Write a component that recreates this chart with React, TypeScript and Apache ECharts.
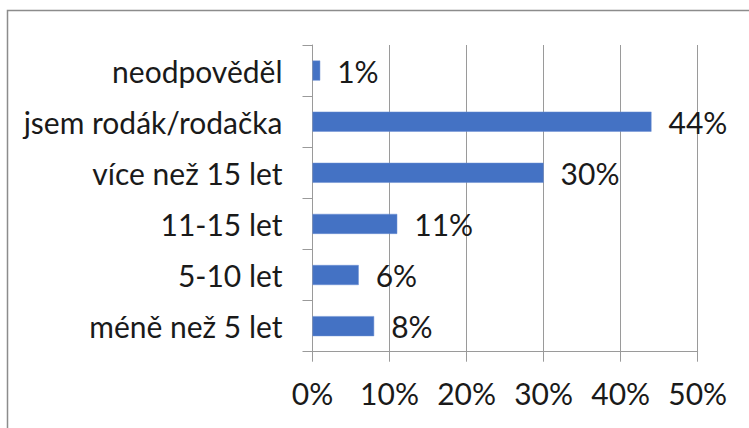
import React, { useEffect, useRef } from "react";
import * as echarts from "echarts";

const categories = ["méně než 5 let", "5-10 let", "11-15 let", "více než 15 let", "jsem rodák/rodačka", "neodpověděl"];
const values = [8, 6, 11, 30, 44, 1];
const xTicks = [0, 10, 20, 30, 40, 50];

const FONT = "Lato";

export default function App() {
  const ref = useRef<HTMLDivElement>(null);
  useEffect(() => {
    if (!ref.current) return;
    const chart = echarts.init(ref.current, null, { renderer: "svg" });
    chart.setOption({
      animation: false,
      backgroundColor: "#ffffff",
      graphic: [
        {
          type: "rect",
          shape: { x: 7.5, y: 10.5, width: 800, height: 500 },
          style: { fill: "none", stroke: "#8c8c8c", lineWidth: 1.5 },
          silent: true,
          z: 100,
        },
      ],
      grid: { left: 312.5, right: 51.3, top: 45, bottom: 76.3 },
      xAxis: {
        type: "value",
        min: xTicks[0],
        max: xTicks[xTicks.length - 1],
        interval: 10,
        axisLine: { show: true, lineStyle: { color: "#9a9a9a", width: 1 } },
        axisTick: { show: true, length: 10, lineStyle: { color: "#9a9a9a" } },
        splitLine: { show: true, lineStyle: { color: "#9a9a9a", width: 1 } },
        axisLabel: {
          formatter: "{value}%",
          color: "#1a1a1a",
          fontFamily: FONT,
          fontSize: 30,
          margin: 26,
        },
      },
      yAxis: {
        type: "category",
        data: categories,
        axisLine: { show: true, lineStyle: { color: "#9a9a9a", width: 1 } },
        axisTick: { show: true, length: 10, alignWithLabel: false, lineStyle: { color: "#9a9a9a" } },
        splitLine: { show: false },
        axisLabel: {
          color: "#1a1a1a",
          fontFamily: FONT,
          fontSize: 30,
          margin: 30,
        },
      },
      series: [
        {
          type: "bar",
          data: values,
          barWidth: 20,
          itemStyle: { color: "#4472C4", borderColor: "#6a8fd3", borderWidth: 0.5 },
          label: {
            show: true,
            position: "right",
            distance: 17,
            formatter: "{c}%",
            color: "#1a1a1a",
            fontFamily: FONT,
            fontSize: 30,
          },
        },
      ],
    });
    return () => chart.dispose();
  }, []);
  return (
    <div
      ref={ref}
      style={{ position: "fixed", left: 0, top: 0, width: 749, height: 428 }}
    />
  );
}
